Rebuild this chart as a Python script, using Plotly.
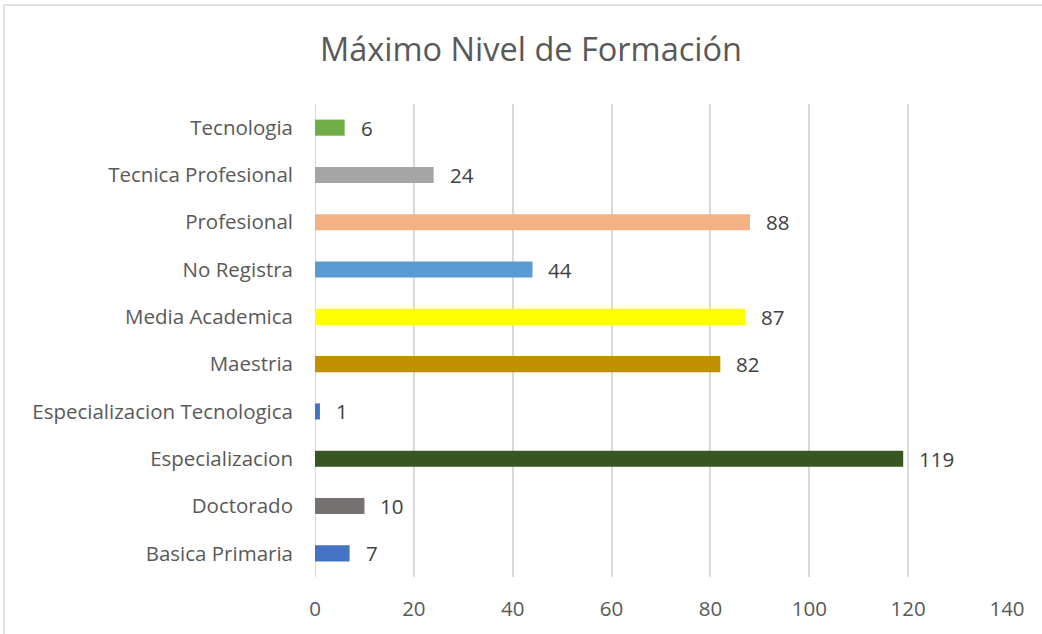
import plotly.graph_objects as go

categories = ["Basica Primaria", "Doctorado", "Especializacion", "Especializacion Tecnologica",
              "Maestria", "Media Academica", "No Registra", "Profesional",
              "Tecnica Profesional", "Tecnologia"]
values = [7, 10, 119, 1, 82, 87, 44, 88, 24, 6]
colors = ["#4472C4", "#767171", "#375623", "#4472C4", "#BF9000", "#FFFF00",
          "#5B9BD5", "#F4B183", "#A5A5A5", "#70AD47"]
x_ticks = [0, 20, 40, 60, 80, 100, 120, 140]

font_family = "'Open Sans', sans-serif"
fs = 20.5

fig = go.Figure(go.Bar(
    y=categories, x=values, orientation="h",
    marker=dict(color=colors, line=dict(width=0)),
    width=0.34,
    hoverinfo="x+y",
))

# data labels
for c, v in zip(categories, values):
    fig.add_annotation(x=v, y=c, xref="x", yref="y", text=str(v), showarrow=False,
                       xanchor="left", yanchor="middle", xshift=14,
                       font=dict(size=fs, color="#404040", family=font_family))

L, R, T, B = 315, 35, 104, 57
W, H = 1042, 634
pw, ph = W - L - R, H - T - B

fig.update_layout(
    width=W, height=H,
    margin=dict(l=L, r=R, t=T, b=B, autoexpand=False),
    paper_bgcolor="white", plot_bgcolor="white",
    title=dict(text="Máximo Nivel de Formación", x=531 / W, xref="container", xanchor="center",
               y=1 - 50 / H, yref="container", yanchor="middle",
               font=dict(size=32.5, color="#595959", family=font_family)),
    font=dict(family=font_family, color="#595959"),
    showlegend=False,
    xaxis=dict(range=[0, 140], tickvals=x_ticks, showgrid=True, gridcolor="#D9D9D9", gridwidth=2,
               zeroline=False, showline=False, ticks="", ticklabelstandoff=17, automargin=False,
               tickfont=dict(size=fs, color="#595959")),
    yaxis=dict(categoryorder="array", categoryarray=categories, showgrid=False, zeroline=False,
               showline=False, ticks="", ticklabelstandoff=21, automargin=False,
               tickfont=dict(size=fs, color="#595959")),
    shapes=[
        dict(type="rect", xref="paper", yref="paper",
             x0=(4 - L) / pw, x1=(W + 20 - L) / pw, y0=-(B + 20) / ph, y1=1 + (T - 5) / ph,
             line=dict(color="#D9D9D9", width=1.5), layer="below"),
        dict(type="line", x0=0, x1=0, y0=0, y1=1, xref="x", yref="paper",
             line=dict(color="#D9D9D9", width=2), layer="below"),
    ],
)

fig.write_html("out.html", config={"displayModeBar": False},
               post_script="document.body.style.margin='0';document.body.style.overflow='hidden';")
